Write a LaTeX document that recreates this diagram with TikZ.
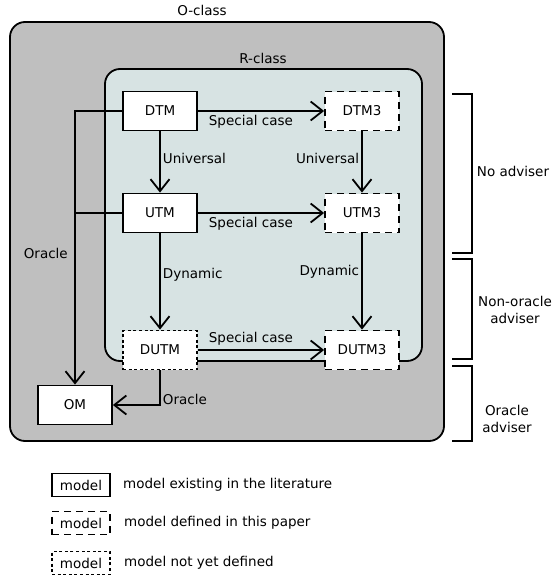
\documentclass[tikz,border=0pt]{standalone}
\usepackage{fontspec}
\setmainfont{DejaVu Sans}
\usetikzlibrary{arrows.meta}
\definecolor{oclass}{RGB}{191,191,191}
\definecolor{rclass}{RGB}{215,227,227}
\begin{document}
\begin{tikzpicture}[x=1pt,y=-1pt,line width=1.8pt,
  font=\fontsize{13.5}{17}\selectfont,
  model/.style={draw,fill=white,minimum width=74pt,minimum height=39pt,inner sep=0pt},
  newmodel/.style={model,dash pattern=on 7pt off 5pt},
  openmodel/.style={model,dash pattern=on 3pt off 2.6pt},
  legbox/.style={minimum width=58pt,minimum height=23pt},
  arr/.style={-{Straight Barb[length=12pt,width=19pt]}}]
\useasboundingbox (0,0) rectangle (553,578);
%classes
\draw[fill=oclass,rounded corners=15pt] (10,22) rectangle (444,441);
\node (oclass) at (202,10) {O-class};
\draw[fill=rclass,rounded corners=15pt] (105,69) rectangle (422,361);
\node (rclass) at (263,58) {R-class};
%models
\node[model] (dtm) at (160,111) {DTM};
\node[newmodel] (dtm3) at (362,111) {DTM3};
\node[model] (utm) at (160,213) {UTM};
\node[newmodel] (utm3) at (362,213) {UTM3};
\node[openmodel] (dutm) at (160,350) {DUTM};
\node[newmodel] (dutm3) at (362,350) {DUTM3};
\node[model] (om) at (75,405) {OM};
%arrows
\draw[arr] (dtm) -- node[below,pos=0.42]{Special case} (dtm3);
\draw[arr] (utm) -- node[below,pos=0.42]{Special case} (utm3);
\draw[arr] (dutm) -- node[above,pos=0.42]{Special case} (dutm3);
\draw[arr] (dtm) -- node[right,inner sep=2pt,pos=0.45]{Universal} (utm);
\draw[arr] (dtm3) -- node[left,inner sep=2pt,pos=0.45]{Universal} (utm3);
\draw[arr] (utm) -- node[right,inner sep=2pt,pos=0.43]{Dynamic} (dutm);
\draw[arr] (utm3) -- node[left,inner sep=2pt,pos=0.4]{Dynamic} (dutm3);
\draw[arr] (dtm.west) -| node[left=3pt,pos=0.76]{Oracle} (om.north);
\draw (utm.west) -- (utm.west -| om.north);
\draw[arr] (dutm.south) |- node[right,inner sep=2pt,pos=0.42]{Oracle} (om.east);
%advisers
\draw (452,94)--(472,94)--(472,253)--(452,253);
\node (noadv) at (513,171) {No adviser};
\draw (452,259)--(472,259)--(472,359)--(452,359);
\node[align=center] (nonoracle) at (515,310) {Non-oracle\\adviser};
\draw (452,366)--(472,366)--(472,441)--(452,441);
\node[align=center] (oracleadv) at (507,419) {Oracle\\adviser};
%legend
\node[model,legbox] (lgexist) at (81,485) {model};
\node[anchor=west] at (119,485) {model existing in the literature};
\node[newmodel,legbox] (lgnew) at (81,523) {model};
\node[anchor=west] at (120,523) {model defined in this paper};
\node[openmodel,legbox] (lgopen) at (81,563) {model};
\node[anchor=west] at (120,563) {model not yet defined};
\end{tikzpicture}
\end{document}
